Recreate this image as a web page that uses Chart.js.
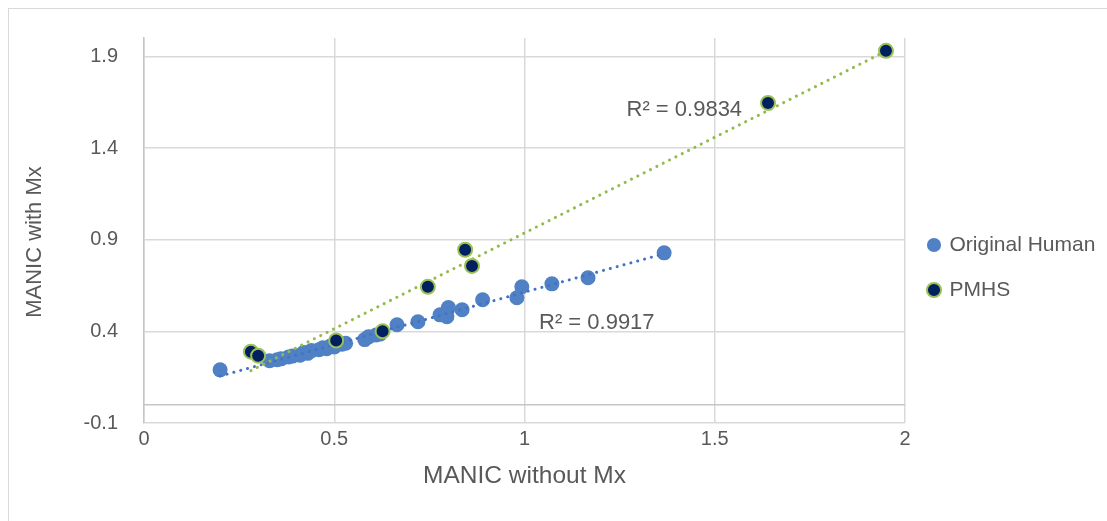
<!DOCTYPE html>
<html>
<head>
<meta charset="utf-8">
<script src="https://cdn.jsdelivr.net/npm/chart.js@4.4.1/dist/chart.umd.min.js"></script>
<style>
    html, body { margin: 0; padding: 0; background: #fff; }
    #wrap { position: relative; width: 1107px; height: 521px; overflow: hidden; }
    #moldura { position: absolute; left: 8px; top: 8px; width: 1120px; height: 540px; border: 1.5px solid #d9d9d9; box-sizing: border-box; }
    canvas { position: absolute; left: 0; top: 0; }
</style>
</head>
<body>
<div id="wrap">
    <div id="moldura"></div>
    <canvas id="grafico" width="1107" height="521"></canvas>
</div>
<script>
// valores
const humanX = [0.20, 0.33, 0.35, 0.36, 0.38, 0.39, 0.41, 0.42, 0.43, 0.44, 0.46, 0.47, 0.48, 0.49, 0.50, 0.52, 0.53, 0.58, 0.59, 0.61, 0.62, 0.665, 0.72, 0.778, 0.796, 0.80, 0.836, 0.89, 0.98, 0.993, 1.072, 1.167, 1.367];
const humanY = [0.19, 0.24, 0.245, 0.25, 0.26, 0.265, 0.27, 0.285, 0.28, 0.295, 0.30, 0.31, 0.305, 0.32, 0.315, 0.33, 0.335, 0.355, 0.37, 0.38, 0.385, 0.436, 0.452, 0.49, 0.48, 0.53, 0.518, 0.572, 0.583, 0.643, 0.659, 0.692, 0.828];
const pmhsX = [0.281, 0.30, 0.505, 0.627, 0.746, 0.844, 0.862, 1.64, 1.95];
const pmhsY = [0.289, 0.267, 0.35, 0.40, 0.643, 0.845, 0.757, 1.646, 1.93];
const xTicks = [0, 0.5, 1, 1.5, 2];
const yTicks = [-0.1, 0.4, 0.9, 1.4, 1.9];
const seriesNomes = ['Original Human', 'PMHS'];
const r2Textos = ['R² = 0.9917', 'R² = 0.9834'];
const tituloY = 'MANIC with Mx';
const tituloX = 'MANIC without Mx';

const corTexto = '#595959';
const fonte = 'Liberation Sans, Arial, sans-serif';

function pontos(xs, ys) {
    return xs.map((x, i) => ({ x: x, y: ys[i] }));
}

// linha de tendência linear (mínimos quadrados) no intervalo dos dados
function tendencia(xs, ys) {
    const n = xs.length;
    const mx = xs.reduce((s, v) => s + v, 0) / n;
    const my = ys.reduce((s, v) => s + v, 0) / n;
    let sxy = 0, sxx = 0;
    xs.forEach((x, i) => { sxy += (x - mx) * (ys[i] - my); sxx += (x - mx) * (x - mx); });
    const b = sxy / sxx;
    const a = my - b * mx;
    const x0 = Math.min(...xs), x1 = Math.max(...xs);
    return [{ x: x0, y: a + b * x0 }, { x: x1, y: a + b * x1 }];
}

const extras = {
    id: 'extras',
    afterInit(chart) {
        const fitOriginal = chart.legend.fit;
        chart.legend.fit = function () {
            fitOriginal.call(this);
            this.width = 202;
        };
    },
    afterLayout(chart) {
        // sobe um pouco a legenda
        chart.legend.top -= 24;
    },
    beforeDatasetsDraw(chart) {
        const { ctx, chartArea, scales } = chart;
        const y0 = scales.y.getPixelForValue(0);
        ctx.save();
        ctx.strokeStyle = '#c6c6c6';
        ctx.lineWidth = 1.5;
        ctx.beginPath();
        ctx.moveTo(chartArea.left, y0);
        ctx.lineTo(chartArea.right, y0);
        ctx.stroke();
        ctx.restore();
    },
    afterDatasetsDraw(chart) {
        const { ctx, scales } = chart;
        const pos = [[1.19, 0.447], [1.42, 1.61]];
        ctx.save();
        ctx.fillStyle = corTexto;
        ctx.font = '22px ' + fonte;
        ctx.textAlign = 'center';
        ctx.textBaseline = 'middle';
        r2Textos.forEach((t, i) => {
            ctx.fillText(t, scales.x.getPixelForValue(pos[i][0]), scales.y.getPixelForValue(pos[i][1]));
        });
        // título do eixo vertical
        ctx.translate(35, 242);
        ctx.rotate(-Math.PI / 2);
        ctx.fillText(tituloY, 0, 0);
        ctx.restore();
    }
};

new Chart(document.getElementById('grafico').getContext('2d'), {
    type: 'scatter',
    data: {
        datasets: [{
            label: seriesNomes[0],
            data: pontos(humanX, humanY),
            backgroundColor: '#4f81c4',
            borderColor: '#4f81c4',
            borderWidth: 0,
            pointRadius: 7.5,
            order: 3
        }, {
            label: seriesNomes[1],
            data: pontos(pmhsX, pmhsY),
            backgroundColor: '#002060',
            borderColor: '#9bc154',
            borderWidth: 2,
            pointRadius: 7,
            order: 0
        }, {
            label: 'tendencia-human',
            type: 'line',
            data: tendencia(humanX, humanY),
            borderColor: '#4472c4',
            borderWidth: 3,
            borderDash: [0.1, 7],
            borderCapStyle: 'round',
            pointRadius: 0,
            fill: false,
            order: 2
        }, {
            label: 'tendencia-pmhs',
            type: 'line',
            data: tendencia(pmhsX, pmhsY),
            borderColor: '#92bb4a',
            borderWidth: 3,
            borderDash: [0.1, 7],
            borderCapStyle: 'round',
            pointRadius: 0,
            fill: false,
            order: 1
        }]
    },
    options: {
        responsive: false,
        animation: false,
        layout: { padding: { top: 38, right: 0, bottom: 0, left: 0 } },
        plugins: {
            tooltip: { enabled: false },
            legend: {
                position: 'right',
                align: 'center',
                labels: {
                    filter: item => seriesNomes.includes(item.text),
                    sort: (a, b) => a.datasetIndex - b.datasetIndex,
                    usePointStyle: true,
                    boxWidth: 10,
                    boxHeight: 10,
                    padding: 24,
                    color: corTexto,
                    font: { family: fonte, size: 21 }
                }
            }
        },
        scales: {
            x: {
                type: 'linear',
                min: 0,
                max: 2,
                afterBuildTicks: s => { s.ticks = xTicks.map(v => ({ value: v })); },
                afterFit: s => { s.height = 98; },
                grid: { color: '#d9d9d9', lineWidth: 1.5, drawTicks: false },
                border: { display: false },
                ticks: { color: corTexto, padding: 4, font: { family: fonte, size: 20 }, callback: v => String(v) },
                title: { display: true, text: tituloX, color: corTexto, padding: { bottom: 30 }, font: { family: fonte, size: 24.5 } }
            },
            y: {
                type: 'linear',
                min: -0.1,
                max: 2.0,
                afterBuildTicks: s => { s.ticks = yTicks.map(v => ({ value: v })); },
                afterFit: s => { s.width = 144; },
                grid: { color: '#d9d9d9', lineWidth: 1.5, drawTicks: false },
                border: { color: '#c6c6c6', width: 1.5 },
                ticks: { color: corTexto, padding: 26, font: { family: fonte, size: 20 }, callback: v => String(v) },
                title: { display: false }
            }
        }
    },
    plugins: [extras]
});
</script>
</body>
</html>
